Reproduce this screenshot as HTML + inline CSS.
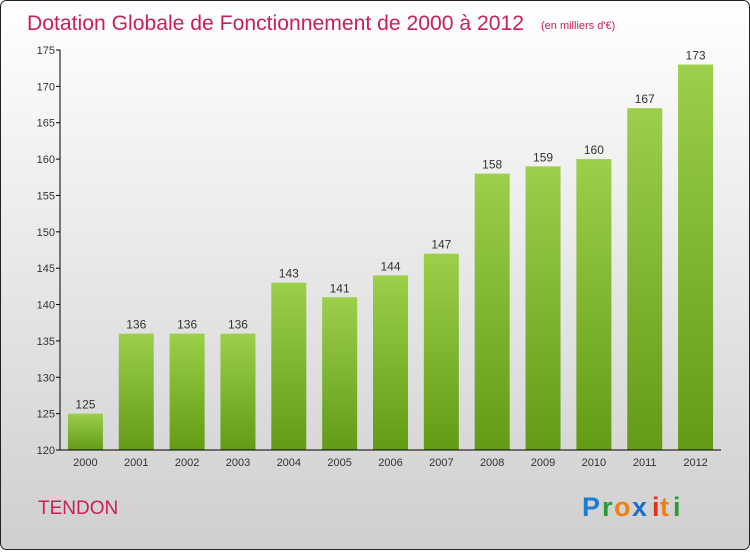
<!DOCTYPE html>
<html><head><meta charset="utf-8"><style>
body{margin:0;width:750px;height:550px;overflow:hidden;font-family:"Liberation Sans",sans-serif}
</style></head><body>
<svg width="750" height="550" xmlns="http://www.w3.org/2000/svg">
<defs>
<linearGradient id="bg" x1="0" y1="0" x2="0" y2="1"><stop offset="0" stop-color="#ffffff"/><stop offset="1" stop-color="#cfcfcf"/></linearGradient>
<linearGradient id="bar" x1="0" y1="0" x2="0" y2="1"><stop offset="0" stop-color="#9ccf4a"/><stop offset="1" stop-color="#629c14"/></linearGradient>
</defs>
<rect x="0.5" y="0.5" width="749" height="549" rx="6" fill="url(#bg)" stroke="#222"/>
<text x="27" y="30" font-size="21" fill="#c8205a" textLength="497" lengthAdjust="spacingAndGlyphs">Dotation Globale de Fonctionnement de 2000 à 2012</text>
<text x="541" y="29" font-size="11" fill="#c8205a">(en milliers d'€)</text>
<g id="plot"></g>
<text x="38" y="514" font-size="19" fill="#c8205a">TENDON</text>
<g font-size="27" font-weight="bold" font-family="'Liberation Sans',sans-serif">
<text x="582" y="516" fill="#1a7fd0">P</text><text x="602" y="516" fill="#2a9a3a">r</text><text x="614" y="516" fill="#f08010">o</text><text x="632" y="516" fill="#1a6fc8">x</text><text x="652" y="516" fill="#e03020">i</text><text x="660" y="516" fill="#f08010">t</text><text x="673" y="516" fill="#2a9a3a">i</text>
</g>
</svg>
<script>
const years=["2000","2001","2002","2003","2004","2005","2006","2007","2008","2009","2010","2011","2012"];
const values=[125,136,136,136,143,141,144,147,158,159,160,167,173];
const yTicks=[120,125,130,135,140,145,150,155,160,165,170,175];
const NS="http://www.w3.org/2000/svg";
const g=document.getElementById('plot');
const L=60,R=721,T=50,B=450,ymin=120,ymax=175;
const slot=(R-L)/years.length;
const y=v=>B-(v-ymin)/(ymax-ymin)*(B-T);
const xc=i=>L+slot*(i+0.5);
function mk(t,a){const e=document.createElementNS(NS,t);for(const k in a)e.setAttribute(k,a[k]);g.appendChild(e);return e;}
values.forEach((v,i)=>{
 const r=mk('rect',{x:xc(i)-17.5,y:y(v),width:35,height:B-y(v),fill:'url(#bar)'});
 
 
 const t=mk('text',{x:xc(i),y:y(v)-5,'font-size':12,fill:'#333','text-anchor':'middle'});
 t.textContent=v;
 
 
 const xl=mk('text',{x:xc(i),y:B+16,'font-size':11,fill:'#333','text-anchor':'middle'});
 xl.textContent=years[i];
 
 
});
yTicks.forEach(v=>{
 const tk=mk('line',{x1:L-4,x2:L,y1:y(v),y2:y(v),stroke:'#000'});
 
 
 const t=mk('text',{x:L-5,y:y(v)+4,'font-size':11,fill:'#333','text-anchor':'end'});
 t.textContent=v;
 
 
});
const ya=mk('line',{x1:L,x2:L,y1:T,y2:B,stroke:'#000'});


const xa=mk('line',{x1:L,x2:R,y1:B,y2:B,stroke:'#000'});


</script>
</body></html>
